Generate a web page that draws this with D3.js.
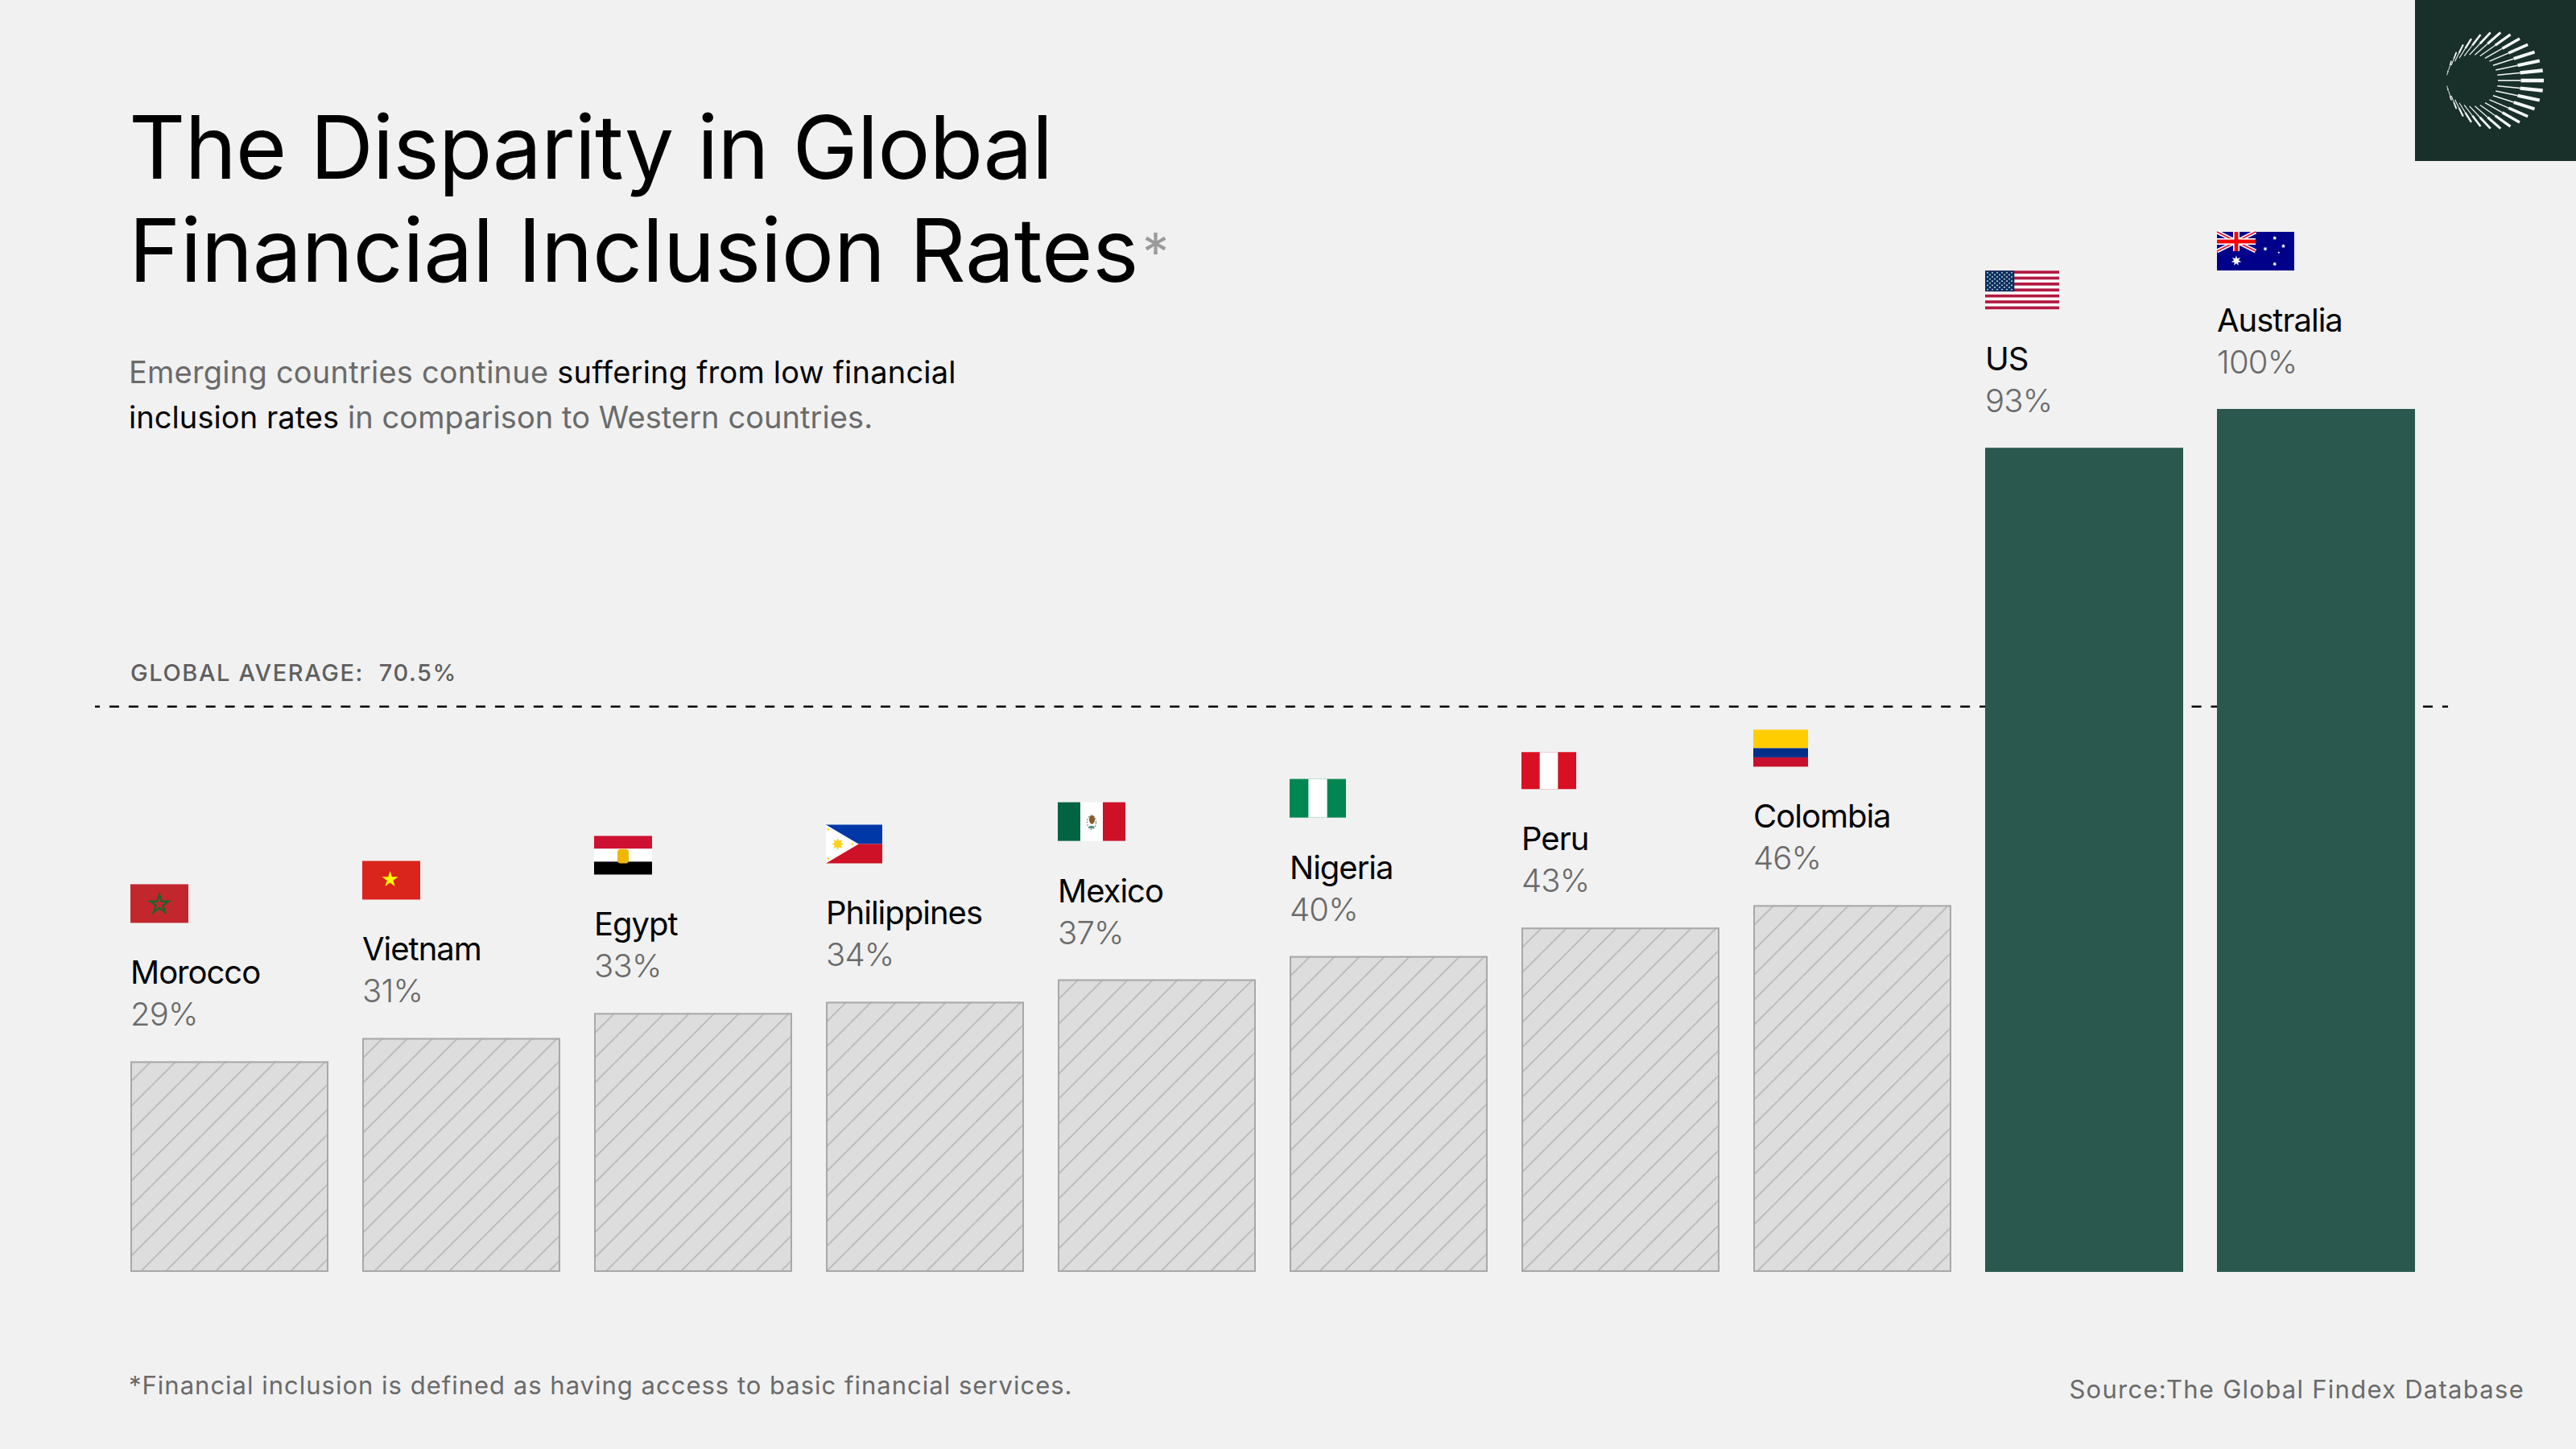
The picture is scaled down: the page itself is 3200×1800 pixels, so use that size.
<!DOCTYPE html>
<html>
<head>
<meta charset="utf-8">
<script src="https://cdn.jsdelivr.net/npm/d3@7"></script>
<style>
  html, body { margin: 0; padding: 0; background: #f1f1f1; }
  svg { display: block; }
  text { font-family: "Inter", "Liberation Sans", sans-serif; white-space: pre; }
</style>
</head>
<body>
<div id="chart"></div>
<script>
// values
const countries = ["Morocco", "Vietnam", "Egypt", "Philippines", "Mexico", "Nigeria", "Peru", "Colombia", "US", "Australia"]
const rateLabels = [29, 31, 33, 34, 37, 40, 43, 46, 93, 100]
// the bars are not drawn to the printed numbers, so this is the height as drawn (tallest bar = 100)
const drawnHeights = [24.4, 27.1, 30, 31.3, 33.9, 36.6, 39.9, 42.5, 95.5, 100]
const highlighted = ["US", "Australia"]
const averageLabel = 70.5
const averageDrawn = 65.5

const titleLines = ["The Disparity in Global", "Financial Inclusion Rates"]
const subtitleLines = [
    [["Emerging countries continue ", false], ["suffering from low financial", true]],
    [["inclusion rates", true], [" in comparison to Western countries.", false]]
]
const footnote = "*Financial inclusion is defined as having access to basic financial services."
const source = "Source:The Global Findex Database"

const width = 3200
const height = 1800
const grey = "#6a6a6a"

const svg = d3.select("#chart").append("svg")
    .attr("width", width)
    .attr("height", height)

svg.append("rect").attr("width", width).attr("height", height).attr("fill", "#f1f1f1")

const x = d3.scaleBand().domain(countries).range([162, 3000]).paddingInner(42 / 288)
const y = d3.scaleLinear().domain([0, 100]).range([1580, 508])

// hatch for the grey bars, anchored to each bar's top left corner
const defs = svg.append("defs")
defs.append("pattern")
    .attr("id", "hatch")
    .attr("patternUnits", "userSpaceOnUse")
    .attr("width", 31)
    .attr("height", 31)
    .append("path")
    .attr("d", "M25.7,0L0,25.7M31,25.7L25.7,31")
    .attr("stroke", "#b4b4b4")
    .attr("stroke-width", 1.6)
    .attr("fill", "none")

// title, spacing set line by line to hit the reference widths
const titleSpacing = [-0.97, -0.45]
svg.append("g").selectAll("text")
    .data(titleLines)
    .enter()
    .append("text")
    .attr("x", 160)
    .attr("y", (d, i) => 222 + i * 128)
    .attr("font-size", 109)
    .attr("letter-spacing", (d, i) => titleSpacing[i])
    .attr("fill", "#000")
    .text(d => d)

svg.append("text")
    .attr("x", 1419)
    .attr("y", 337)
    .attr("font-size", 66)
    .attr("fill", "#9a9a9a")
    .text("*")

// subtitle
const subtitleSpacing = [0.22, 0.07]
const subtitle = svg.append("g").selectAll("text")
    .data(subtitleLines)
    .enter()
    .append("text")
    .attr("x", 160)
    .attr("y", (d, i) => 476 + i * 56)
    .attr("font-size", 38)
    .attr("letter-spacing", (d, i) => subtitleSpacing[i])

subtitle.selectAll("tspan")
    .data(d => d)
    .enter()
    .append("tspan")
    .attr("fill", d => d[1] ? "#000" : grey)
    .text(d => d[0])

// average line goes behind the bars
svg.append("line")
    .attr("x1", 118)
    .attr("x2", 3041)
    .attr("y1", y(averageDrawn))
    .attr("y2", y(averageDrawn))
    .attr("stroke", "#000")
    .attr("stroke-width", 2.5)
    .attr("stroke-dasharray", "12 11.95")
    .attr("stroke-dashoffset", 6)

svg.append("text")
    .attr("x", 162)
    .attr("y", y(averageDrawn) - 32)
    .attr("font-size", 29)
    .attr("font-weight", 500)
    .attr("letter-spacing", 1.6)
    .attr("fill", "#5f5f5f")
    .text(`GLOBAL AVERAGE:  ${averageLabel}%`)

// bars
const rows = countries.map((c, i) => ({ country: c, label: rateLabels[i], drawn: drawnHeights[i] }))

const bar = svg.append("g").selectAll("g")
    .data(rows)
    .enter()
    .append("g")
    .attr("transform", d => `translate(${x(d.country)},${y(d.drawn)})`)

bar.filter(d => highlighted.includes(d.country))
    .append("rect")
    .attr("width", x.bandwidth())
    .attr("height", d => y(0) - y(d.drawn))
    .attr("fill", "#2b584e")

const greyBars = bar.filter(d => !highlighted.includes(d.country))
greyBars.append("rect")
    .attr("width", x.bandwidth())
    .attr("height", d => y(0) - y(d.drawn))
    .attr("fill", "#dddddd")
greyBars.append("rect")
    .attr("width", x.bandwidth())
    .attr("height", d => y(0) - y(d.drawn))
    .attr("fill", "url(#hatch)")
greyBars.append("rect")
    .attr("x", 1)
    .attr("y", 1)
    .attr("width", x.bandwidth() - 2)
    .attr("height", d => y(0) - y(d.drawn) - 2)
    .attr("fill", "none")
    .attr("stroke", "#a8a8a8")
    .attr("stroke-width", 2)

bar.append("text")
    .attr("x", 0)
    .attr("y", -96)
    .attr("font-size", 40)
    .attr("letter-spacing", -1)
    .attr("fill", "#000")
    .text(d => d.country)

bar.append("text")
    .attr("x", 0)
    .attr("y", -44)
    .attr("font-size", 40)
    .attr("font-weight", 300)
    .attr("letter-spacing", -0.8)
    .attr("fill", grey)
    .text(d => d.label + "%")

// flags
function starPath(cx, cy, r, points, inner) {
    const pts = d3.range(points * 2).map(i => {
        const a = -Math.PI / 2 + i * Math.PI / points
        const rr = i % 2 ? r * inner : r
        return [cx + rr * Math.cos(a), cy + rr * Math.sin(a)]
    })
    return d3.line()(pts) + "Z"
}

function band(g, bx, by, w, h, fill) {
    g.append("rect").attr("x", bx).attr("y", by).attr("width", w).attr("height", h).attr("fill", fill)
}

const flagSizes = {
    Morocco: [72, 48], Vietnam: [72, 48], Egypt: [72, 48], Philippines: [70, 48], Mexico: [84, 48],
    Nigeria: [70, 48], Peru: [68, 46], Colombia: [68, 46], US: [92, 48], Australia: [96, 48]
}

const flagDrawers = {
    Morocco(g, w, h) {
        band(g, 0, 0, w, h, "#c1272d")
        g.append("path").attr("d", starPath(w / 2, h / 2 + 1, 12, 5, 0.38))
            .attr("fill", "none").attr("stroke", "#1f6330").attr("stroke-width", 2.4)
    },
    Vietnam(g, w, h) {
        band(g, 0, 0, w, h, "#da251d")
        g.append("path").attr("d", starPath(w * 0.48, h * 0.48, 10.5, 5, 0.38)).attr("fill", "#ffff00")
    },
    Egypt(g, w, h) {
        band(g, 0, 0, w, h / 3, "#ce1132")
        band(g, 0, h / 3, w, h / 3, "#fff")
        band(g, 0, h * 2 / 3, w, h / 3, "#000")
        g.append("rect").attr("x", w / 2 - 7).attr("y", h * 0.34).attr("width", 14).attr("height", h * 0.37)
            .attr("rx", 4).attr("fill", "#f2b600")
    },
    Philippines(g, w, h) {
        band(g, 0, 0, w, h / 2, "#0038a8")
        band(g, 0, h / 2, w, h / 2, "#ce1126")
        g.append("path").attr("d", `M0,0L${w * 0.58},${h / 2}L0,${h}Z`).attr("fill", "#fff")
        g.append("path").attr("d", starPath(w * 0.21, h / 2, 7.5, 8, 0.55)).attr("fill", "#fcd116")
        const starsAt = [[0.04, 0.12], [0.04, 0.88], [0.47, 0.5]]
        starsAt.forEach(p => {
            g.append("path").attr("d", starPath(w * p[0], h * p[1], 2.2, 5, 0.4)).attr("fill", "#fcd116")
        })
    },
    Mexico(g, w, h) {
        band(g, 0, 0, w / 3, h, "#006341")
        band(g, w / 3, 0, w / 3, h, "#fff")
        band(g, w * 2 / 3, 0, w / 3, h, "#ce1126")
        g.append("ellipse").attr("cx", w / 2).attr("cy", h * 0.52).attr("rx", 5.5).attr("ry", 8.5)
            .attr("fill", "none").attr("stroke", "#7f9f86").attr("stroke-width", 1.4).attr("stroke-dasharray", "2 1.5")
        g.append("ellipse").attr("cx", w / 2 + 0.5).attr("cy", h * 0.45).attr("rx", 3.5).attr("ry", 5.5).attr("fill", "#8a5a2b")
        g.append("ellipse").attr("cx", w / 2).attr("cy", h * 0.64).attr("rx", 3.5).attr("ry", 1.6).attr("fill", "#4d8f8a")
    },
    Nigeria(g, w, h) {
        band(g, 0, 0, w, h, "#008751")
        band(g, w / 3, 0, w / 3, h, "#fff")
    },
    Peru(g, w, h) {
        band(g, 0, 0, w, h, "#d91023")
        band(g, w / 3, 0, w / 3, h, "#fff")
    },
    Colombia(g, w, h) {
        band(g, 0, 0, w, h / 2, "#ffcd00")
        band(g, 0, h / 2, w, h / 4, "#003087")
        band(g, 0, h * 3 / 4, w, h / 4, "#c8102e")
    },
    US(g, w, h) {
        const stripe = h / 13
        band(g, 0, 0, w, h, "#fff")
        d3.range(0, 13, 2).forEach(i => band(g, 0, i * stripe, w, stripe, "#b31942"))
        band(g, 0, 0, w * 0.395, stripe * 7, "#0a3161")
        d3.range(9).forEach(r => {
            const n = r % 2 ? 5 : 6
            d3.range(n).forEach(c => {
                g.append("circle")
                    .attr("cx", (r % 2 ? 6 : 3) + c * 6)
                    .attr("cy", 2.5 + r * 2.6)
                    .attr("r", 0.85)
                    .attr("fill", "#fff")
            })
        })
    },
    Australia(g, w, h) {
        band(g, 0, 0, w, h, "#00008b")
        const cw = w / 2
        const ch = h / 2
        const cross = [[0, 0, cw, ch], [cw, 0, 0, ch]]
        cross.forEach(l => {
            g.append("line").attr("x1", l[0]).attr("y1", l[1]).attr("x2", l[2]).attr("y2", l[3])
                .attr("stroke", "#fff").attr("stroke-width", 5)
            g.append("line").attr("x1", l[0]).attr("y1", l[1]).attr("x2", l[2]).attr("y2", l[3])
                .attr("stroke", "#e8112d").attr("stroke-width", 1.7)
        })
        band(g, cw / 2 - 4, 0, 8, ch, "#fff")
        band(g, 0, ch / 2 - 4, cw, 8, "#fff")
        band(g, cw / 2 - 2.4, 0, 4.8, ch, "#ff0000")
        band(g, 0, ch / 2 - 2.4, cw, 4.8, "#ff0000")
        const stars = [[0.25, 0.75, 6.5], [0.747, 0.16, 2.8], [0.859, 0.368, 2.8], [0.625, 0.44, 2.8], [0.8, 0.535, 1.6], [0.747, 0.833, 2.8]]
        stars.forEach(s => {
            g.append("path").attr("d", starPath(w * s[0], h * s[1], s[2], 7, 0.45)).attr("fill", "#fff")
        })
    }
}

const flag = bar.append("g")
    .attr("transform", d => `translate(0,${-172 - flagSizes[d.country][1]})`)

flag.each(function(d) {
    const size = flagSizes[d.country]
    flagDrawers[d.country](d3.select(this), size[0], size[1])
})

// footer
svg.append("text")
    .attr("x", 160)
    .attr("y", 1732)
    .attr("font-size", 31)
    .attr("letter-spacing", 1)
    .attr("fill", grey)
    .text(footnote)

svg.append("text")
    .attr("x", 3136)
    .attr("y", 1737)
    .attr("text-anchor", "end")
    .attr("font-size", 31)
    .attr("letter-spacing", 1.27)
    .attr("fill", grey)
    .text(source)

// logo tile
const logo = svg.append("g")
logo.append("rect")
    .attr("x", 3000)
    .attr("width", 200)
    .attr("height", 200)
    .attr("fill", "#182f2a")

// rays run from an off-centre inner circle out to the outer circle
const rayAngles = d3.range(-168, 169, 12)
const rays = logo.append("g").selectAll("g")
    .data(rayAngles)
    .enter()
    .append("g")
    .attr("stroke", "#f4f8f6")

function rayPoint(a, t) {
    const r = a * Math.PI / 180
    const ix = 3071 + 32 * Math.cos(r)
    const iy = 100 + 32 * Math.sin(r)
    const ox = 3100 + 60 * Math.cos(r)
    const oy = 100 + 60 * Math.sin(r)
    return [ix + (ox - ix) * t, iy + (oy - iy) * t]
}

rays.append("line")
    .attr("x1", a => rayPoint(a, 0)[0])
    .attr("y1", a => rayPoint(a, 0)[1])
    .attr("x2", a => rayPoint(a, 0.5)[0])
    .attr("y2", a => rayPoint(a, 0.5)[1])
    .attr("stroke-width", a => 1.6 - Math.abs(a) / 168 * 0.7)

rays.append("line")
    .attr("x1", a => rayPoint(a, 0.5)[0])
    .attr("y1", a => rayPoint(a, 0.5)[1])
    .attr("x2", a => rayPoint(a, 1)[0])
    .attr("y2", a => rayPoint(a, 1)[1])
    .attr("stroke-width", a => 4.6 - Math.abs(a) / 168 * 3.2)
</script>
</body>
</html>
